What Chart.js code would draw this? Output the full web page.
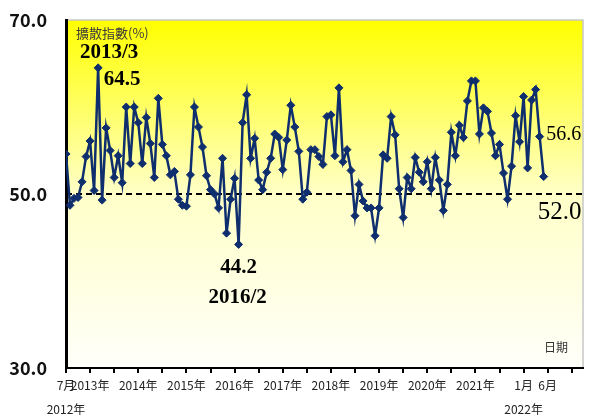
<!DOCTYPE html>
<html>
<head>
<meta charset="utf-8">
<script src="https://cdn.jsdelivr.net/npm/chart.js@4.4.1/dist/chart.umd.min.js"></script>
<style>
  html, body { margin: 0; padding: 0; background: #fff; }
</style>
</head>
<body>
<canvas id="diffChart" width="589" height="415"></canvas>
<script>
// 擴散指數 每月資料 2012/7 ~ 2022/6
const startYear = 2012;
const startMonth = 7;
const diffusion = [
  54.6, 48.7, 49.5, 49.6, 51.4, 54.3, 56.1, 50.4, 64.5, 49.3,
  57.6, 55.0, 51.9, 54.4, 51.3, 60.0, 53.5, 60.0, 58.2, 53.5,
  58.8, 55.8, 51.9, 61.0, 55.7, 54.4, 52.2, 52.6, 49.4, 48.7,
  48.6, 52.2, 60.0, 57.7, 55.4, 52.1, 50.5, 50.0, 48.4, 54.1,
  45.5, 49.4, 51.8, 44.2, 58.2, 61.4, 54.1, 56.4, 51.6, 50.5,
  52.5, 54.1, 56.9, 56.5, 52.8, 56.2, 60.2, 57.7, 54.9, 49.4,
  50.2, 55.1, 55.1, 54.3, 53.4, 58.9, 59.1, 54.4, 62.2, 53.7,
  55.1, 52.7, 47.5, 51.1, 49.2, 48.4, 48.4, 45.2, 48.4, 54.5,
  54.1, 58.9, 56.8, 50.6, 47.3, 51.9, 50.6, 54.2, 52.5, 51.4,
  53.7, 50.6, 54.2, 51.6, 48.1, 51.1, 57.1, 54.4, 57.9, 56.5,
  60.7, 63.0, 63.0, 56.9, 59.9, 59.5, 57.0, 54.4, 55.7, 52.4,
  49.4, 53.2, 59.0, 56.0, 61.2, 53.0, 60.8, 62.0, 56.6, 52.0
];

// 軸刻度
const yTicks = [30, 50, 70];
const refLevel = 50;
const xTickStep = 6;
const xMax = 128.8;
const xTickLabels = {
  0: ['7月', '2012年'],
  6: '2013年',
  18: '2014年',
  30: '2015年',
  42: '2016年',
  54: '2017年',
  66: '2018年',
  78: '2019年',
  90: '2020年',
  102: '2021年',
  114: ['1月', '2022年'],
  120: '6月'
};

// 標註的點 (最大值、最小值、最後兩個月)
const iMax = diffusion.indexOf(Math.max(...diffusion));
const iMin = diffusion.indexOf(Math.min(...diffusion));
const iLast = diffusion.length - 1;

function monthName(i) {
  const m = startMonth - 1 + i;
  return (startYear + Math.floor(m / 12)) + '/' + (m % 12 + 1);
}

const points = diffusion.map(function (v, i) { return { x: i, y: v }; });

const lineColor = '#0f2e6e';
const narrow = "'Liberation Sans Narrow', 'Arial Narrow', 'Noto Sans CJK TC', sans-serif";
const serif = "'Liberation Serif', 'Times New Roman', serif";

// 背景漸層、外框、50 虛線、文字標註
const decorPlugin = {
  id: 'decor',
  beforeDraw: function (chart) {
    const ctx = chart.ctx;
    const a = chart.chartArea;
    ctx.save();
    ctx.fillStyle = '#fff';
    ctx.fillRect(0, 0, chart.width, chart.height);
    const g = ctx.createLinearGradient(0, a.top, 0, a.bottom);
    g.addColorStop(0, '#ffff00');
    g.addColorStop(0.5, '#ffffc8');
    g.addColorStop(1, '#fffffa');
    ctx.fillStyle = g;
    ctx.fillRect(a.left, a.top, a.right - a.left, a.bottom - a.top);
    ctx.strokeStyle = '#c8c8c8';
    ctx.lineWidth = 1.5;
    ctx.beginPath();
    ctx.moveTo(a.left, a.top);
    ctx.lineTo(a.right, a.top);
    ctx.lineTo(a.right, a.bottom);
    ctx.stroke();
    ctx.restore();
  },
  beforeDatasetsDraw: function (chart) {
    const ctx = chart.ctx;
    const a = chart.chartArea;
    const y = chart.scales.y.getPixelForValue(refLevel);
    ctx.save();
    ctx.strokeStyle = '#000';
    ctx.lineWidth = 2;
    ctx.setLineDash([6, 4]);
    ctx.beginPath();
    ctx.moveTo(a.left, y);
    ctx.lineTo(a.right, y);
    ctx.stroke();
    ctx.restore();
  },
  afterDraw: function (chart) {
    const ctx = chart.ctx;
    const a = chart.chartArea;
    const xs = chart.scales.x;
    const ys = chart.scales.y;
    function px(i) { return xs.getPixelForValue(i); }
    function py(i) { return ys.getPixelForValue(diffusion[i]); }
    function text(str, x, y, font, color, align) {
      ctx.font = font;
      ctx.fillStyle = color || '#000';
      ctx.textAlign = align || 'center';
      ctx.textBaseline = 'middle';
      ctx.fillText(str, x, y);
    }
    ctx.save();
    text('擴散指數(%)', a.left + 10, a.top + 13, "13px 'Noto Sans CJK TC', sans-serif", '#3a3a3a', 'left');
    text('日期', a.right - 27, a.bottom - 21, "12px 'Noto Sans CJK TC', sans-serif", '#333');

    text(monthName(iMax), px(iMax) + 11, py(iMax) - 15, 'bold 21px ' + serif);
    text(diffusion[iMax].toFixed(1), px(iMax) + 24, py(iMax) + 12, 'bold 21px ' + serif);

    text(diffusion[iMin].toFixed(1), px(iMin), py(iMin) + 23, 'bold 21px ' + serif);
    text(monthName(iMin), px(iMin) - 1, py(iMin) + 53, 'bold 21px ' + serif);

    text(diffusion[iLast - 1].toFixed(1), px(iLast - 1) + 24, py(iLast - 1) - 2, '20px ' + serif);
    text(diffusion[iLast].toFixed(1), px(iLast) + 16, py(iLast) + 36, '25px ' + serif);
    ctx.restore();
  }
};

const ctx = document.getElementById('diffChart').getContext('2d');
new Chart(ctx, {
  type: 'line',
  data: {
    datasets: [{
      data: points,
      borderColor: lineColor,
      borderWidth: 2.5,
      backgroundColor: lineColor,
      pointStyle: 'rectRot',
      pointRadius: 4,
      pointBackgroundColor: lineColor,
      pointBorderColor: lineColor,
      pointBorderWidth: 1,
      tension: 0,
      fill: false
    }]
  },
  options: {
    responsive: false,
    animation: false,
    layout: { padding: { top: 20, right: 6, left: 0, bottom: 0 } },
    plugins: {
      legend: { display: false },
      tooltip: { enabled: false }
    },
    scales: {
      x: {
        type: 'linear',
        min: 0,
        max: xMax,
        afterBuildTicks: function (scale) {
          const t = [];
          for (let v = 0; v <= xMax; v += xTickStep) t.push({ value: v });
          scale.ticks = t;
        },
        afterFit: function (scale) { scale.height = 47; },
        grid: {
          drawOnChartArea: false,
          drawTicks: true,
          tickLength: 5,
          color: '#000',
          lineWidth: 2
        },
        border: { color: '#000', width: 2 },
        ticks: {
          autoSkip: false,
          maxRotation: 0,
          padding: 0,
          color: '#222',
          font: { family: narrow, size: 12, lineHeight: 2 },
          callback: function (v) { return xTickLabels[v] !== undefined ? xTickLabels[v] : ''; }
        }
      },
      y: {
        min: 30,
        max: 70,
        afterBuildTicks: function (scale) {
          scale.ticks = yTicks.map(function (v) { return { value: v }; });
        },
        afterFit: function (scale) { scale.width = 66; },
        // 透明刻度線,只用來把標籤推離軸線
        grid: {
          drawOnChartArea: false,
          drawTicks: true,
          tickLength: 19,
          color: 'rgba(0,0,0,0)'
        },
        border: { color: '#000', width: 3 },
        ticks: {
          padding: 0,
          color: '#111',
          font: { family: narrow, size: 18, weight: 'bold' },
          callback: function (v) { return v.toFixed(1); }
        }
      }
    }
  },
  plugins: [decorPlugin]
});
</script>
</body>
</html>
